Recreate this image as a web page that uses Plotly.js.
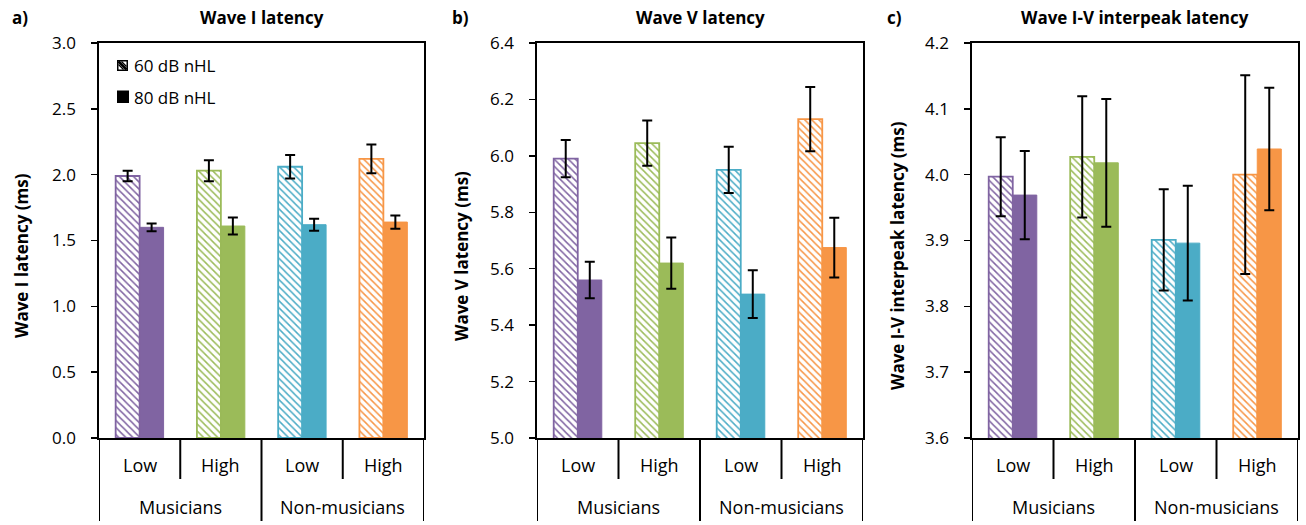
<!DOCTYPE html>
<html>
<head>
<meta charset="utf-8">
<script src="https://cdn.plot.ly/plotly-3.0.1.min.js"></script>
<style>html,body{margin:0;padding:0;background:#fff;}#chart{width:1306px;height:525px;}</style>
</head>
<body>
<div id="chart"></div>
<script>
// ---- data ----
const groups = ["Musicians", "Musicians", "Non-musicians", "Non-musicians"];
const levels = ["Low", "High", "Low", "High"];
const seriesNames = ["60 dB nHL", "80 dB nHL"];

const waveI_60 = [1.99, 2.03, 2.06, 2.12];
const waveI_60_err = [0.04, 0.08, 0.09, 0.11];
const waveI_80 = [1.60, 1.61, 1.62, 1.64];
const waveI_80_err = [0.03, 0.065, 0.045, 0.05];

const waveV_60 = [5.99, 6.045, 5.95, 6.13];
const waveV_60_err = [0.066, 0.08, 0.082, 0.114];
const waveV_80 = [5.56, 5.62, 5.51, 5.675];
const waveV_80_err = [0.065, 0.091, 0.085, 0.106];

const ipl_60 = [3.997, 4.027, 3.901, 4.000];
const ipl_60_err = [0.060, 0.092, 0.077, 0.151];
const ipl_80 = [3.969, 4.018, 3.896, 4.039];
const ipl_80_err = [0.067, 0.097, 0.087, 0.093];

const panelTitles = ["Wave I latency", "Wave V latency", "Wave I-V interpeak latency"];
const yTitles = ["Wave I latency (ms)", "Wave V latency (ms)", "Wave I-V interpeak latency (ms)"];
const panelLetters = ["a)", "b)", "c)"];

// ---- style ----
const colors = ["#8064A2", "#9BBB59", "#4BACC6", "#F79646"];
const W = 1306, H = 525;
const FONT = "'Open Sans', 'Noto Sans', sans-serif";
const px = v => v / W;
const py = v => 1 - v / H;

const xKeys = groups.map((g, i) => g + " " + levels[i]);

const panels = [
  {y60: waveI_60, e60: waveI_60_err, y80: waveI_80, e80: waveI_80_err, range: [0, 3], dtick: 0.5, x0: 99, x1: 424, ytx: 21, letterX: 10},
  {y60: waveV_60, e60: waveV_60_err, y80: waveV_80, e80: waveV_80_err, range: [5, 6.4], dtick: 0.2, x0: 537, x1: 863, ytx: 461, letterX: 450},
  {y60: ipl_60, e60: ipl_60_err, y80: ipl_80, e80: ipl_80_err, range: [3.6, 4.2], dtick: 0.1, x0: 972, x1: 1298, ytx: 897, letterX: 885}
];

const data = [];
const annotations = [];
const shapes = [];
const layout = {
  width: W, height: H,
  margin: {l: 0, r: 0, t: 0, b: 0},
  paper_bgcolor: "#fff", plot_bgcolor: "#fff",
  barmode: "group", bargap: 0.41, bargroupgap: 0,
  showlegend: false,
  font: {family: FONT, size: 15, color: "#000"}
};

const yTop = 43, yBot = 438;

panels.forEach((p, k) => {
  const n = k === 0 ? "" : String(k + 1);
  const xa = "x" + n, ya = "y" + n;
  data.push({
    type: "bar", name: seriesNames[0], x: xKeys, y: p.y60, xaxis: xa, yaxis: ya,
    marker: {
      color: "#ffffff",
      line: {color: colors, width: 1.8},
      pattern: {shape: "\\", fgcolor: colors, bgcolor: "#ffffff", size: 5, solidity: 0.3, fillmode: "replace"}
    },
    error_y: {type: "data", array: p.e60, visible: true, color: "#000", thickness: 2, width: 5},
    hoverinfo: "skip"
  });
  data.push({
    type: "bar", name: seriesNames[1], x: xKeys, y: p.y80, xaxis: xa, yaxis: ya,
    marker: {color: colors, line: {color: colors, width: 1}},
    error_y: {type: "data", array: p.e80, visible: true, color: "#000", thickness: 2, width: 5},
    hoverinfo: "skip"
  });

  layout["xaxis" + n] = {
    domain: [px(p.x0), px(p.x1)], anchor: ya, type: "category",
    range: [-0.5, 3.5], showline: true, mirror: true, linecolor: "#000", linewidth: 1.6,
    ticks: "", showticklabels: false, showgrid: false, zeroline: false, fixedrange: true
  };
  layout["yaxis" + n] = {
    domain: [py(yBot), py(yTop)], anchor: xa, range: p.range, dtick: p.dtick, tick0: p.range[0],
    tickformat: ".1f", showline: true, mirror: true, linecolor: "#000", linewidth: 1.6,
    ticks: "outside", ticklen: 6, tickwidth: 1.5, tickcolor: "#000", ticklabelstandoff: 12,
    tickfont: {family: FONT, size: 17, color: "#000"},
    showgrid: false, zeroline: false, fixedrange: true
  };

  // panel title
  annotations.push({xref: "paper", yref: "paper", x: px((p.x0 + p.x1) / 2), y: py(18),
    text: "<b>" + panelTitles[k] + "</b>", showarrow: false, xanchor: "center", yanchor: "middle",
    font: {family: FONT, size: 17, color: "#000"}});
  // panel letter
  annotations.push({xref: "paper", yref: "paper", x: px(p.letterX), y: py(18),
    text: "<b>" + panelLetters[k] + "</b>", showarrow: false, xanchor: "left", yanchor: "middle",
    font: {family: FONT, size: 17, color: "#000"}});
  // y title
  annotations.push({xref: "paper", yref: "paper", x: px(p.ytx), y: py(256),
    text: "<b>" + yTitles[k] + "</b>", showarrow: false, textangle: -90, xanchor: "center", yanchor: "middle",
    font: {family: FONT, size: 17, color: "#000"}});

  // category level labels
  levels.forEach((lv, i) => {
    annotations.push({xref: xa, yref: "paper", x: i, y: py(465), text: lv, showarrow: false,
      xanchor: "center", yanchor: "middle", font: {family: FONT, size: 18, color: "#000"}});
  });
  // group labels
  const uniq = [...new Set(groups)];
  uniq.forEach(g => {
    const idx = groups.map((v, i) => v === g ? i : -1).filter(i => i >= 0);
    const mid = (idx[0] + idx[idx.length - 1]) / 2;
    annotations.push({xref: xa, yref: "paper", x: mid, y: py(507), text: g, showarrow: false,
      xanchor: "center", yanchor: "middle", font: {family: FONT, size: 18, color: "#000"}});
  });
  // separators
  for (let b = 0; b <= groups.length; b++) {
    const isGroupEdge = b === 0 || b === groups.length || groups[b - 1] !== groups[b];
    shapes.push({type: "line", xref: xa, yref: "paper", x0: b - 0.5, x1: b - 0.5,
      y0: py(yBot), y1: py(isGroupEdge ? 521 : 479), line: {color: "#000", width: 2}});
  }
});

// manual legend in panel a
shapes.push({type: "rect", xref: "paper", yref: "paper", x0: px(117), x1: px(128), y0: py(71), y1: py(60),
  fillcolor: "#000", line: {width: 0}});
shapes.push({type: "rect", xref: "paper", yref: "paper", x0: px(118.5), x1: px(126.5), y0: py(69.5), y1: py(61.5),
  fillcolor: "#fff", line: {width: 0}});
shapes.push({type: "path", xref: "paper", yref: "paper",
  path: "M " + px(118.5) + "," + py(61.5) + " L " + px(126.5) + "," + py(69.5),
  line: {color: "#000", width: 2.5}});
shapes.push({type: "path", xref: "paper", yref: "paper",
  path: "M " + px(121.5) + "," + py(61.5) + " L " + px(126.5) + "," + py(66.5),
  line: {color: "#000", width: 1.2}});
shapes.push({type: "path", xref: "paper", yref: "paper",
  path: "M " + px(118.5) + "," + py(64.5) + " L " + px(123.5) + "," + py(69.5),
  line: {color: "#000", width: 1.2}});
shapes.push({type: "rect", xref: "paper", yref: "paper", x0: px(117), x1: px(129), y0: py(103), y1: py(90.5),
  fillcolor: "#000", line: {width: 0}});
annotations.push({xref: "paper", yref: "paper", x: px(132), y: py(66), text: seriesNames[0], showarrow: false,
  xanchor: "left", yanchor: "middle", font: {family: FONT, size: 17, color: "#000"}});
annotations.push({xref: "paper", yref: "paper", x: px(132), y: py(97), text: seriesNames[1], showarrow: false,
  xanchor: "left", yanchor: "middle", font: {family: FONT, size: 17, color: "#000"}});

layout.annotations = annotations;
layout.shapes = shapes;

Plotly.newPlot("chart", data, layout, {displayModeBar: false, staticPlot: true});
</script>
</body>
</html>
